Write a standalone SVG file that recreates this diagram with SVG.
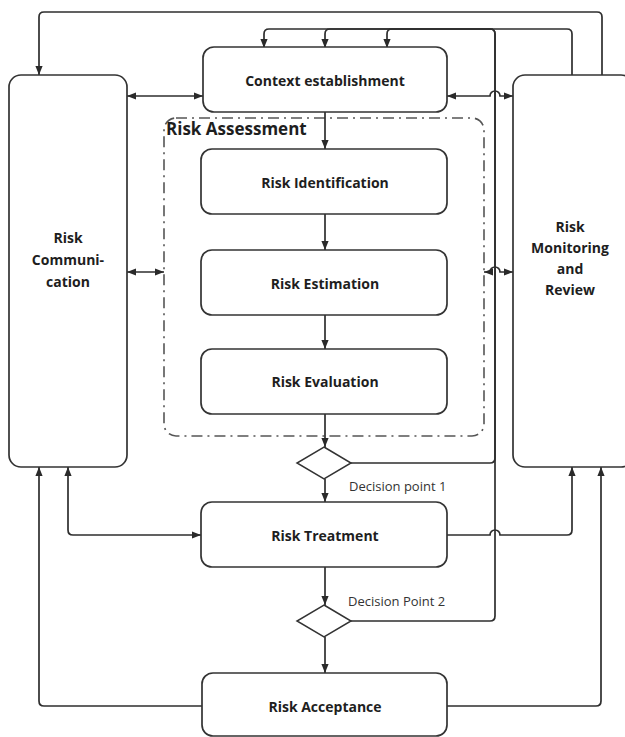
<svg xmlns="http://www.w3.org/2000/svg" width="625" height="737" viewBox="0 0 625 737">
<defs>
<marker id="arr" viewBox="0 0 10 8" refX="10" refY="4" markerWidth="9" markerHeight="8" markerUnits="userSpaceOnUse" orient="auto-start-reverse">
<path d="M0,0 L10,4 L0,8 z" fill="#2a2a2a"/>
</marker>
<style>
.box{fill:#fff;stroke:#333;stroke-width:1.7}
.dia{fill:#fff;stroke:#333;stroke-width:1.5}
.ra{fill:none;stroke:#555;stroke-width:1.6;stroke-dasharray:11 5 2 5}
.c{fill:none;stroke:#2e2e2e;stroke-width:1.7}
.ce{marker-end:url(#arr)}
.cb{marker-start:url(#arr);marker-end:url(#arr)}
.t{font-family:"Open Sans","Liberation Sans",sans-serif;font-weight:bold;font-size:14px;fill:#1e1e1e;text-anchor:middle;dominant-baseline:central}
.l{font-family:"Open Sans","Liberation Sans",sans-serif;font-size:13px;fill:#333;dominant-baseline:central}
.h{font-family:"Open Sans","Liberation Sans",sans-serif;font-weight:bold;font-size:17px;fill:#1e1e1e;dominant-baseline:central}
</style>
</defs>
<rect width="625" height="737" fill="#fff"/>

<g id="risk-assessment">
<rect class="ra" x="164" y="118" width="320" height="318" rx="12"/>
<text class="h" x="166" y="128">Risk Assessment</text>
</g>

<g id="connectors">
<path class="c ce" d="M325,112 V149"/>
<path class="c ce" d="M325,214 V250"/>
<path class="c ce" d="M325,315 V349"/>
<path class="c ce" d="M325,414 V447"/>
<path class="c ce" d="M325,479 V502"/>
<path class="c ce" d="M325,567 V605"/>
<path class="c ce" d="M325,637 V673"/>
<path class="c cb" d="M127,96 H203"/>
<path class="c cb" d="M447,96 H490 A5,5 0 0 1 500,96 H513"/>
<path class="c cb" d="M127,272 H164"/>
<path class="c cb" d="M484,272 H490 A5,5 0 0 1 500,272 H513"/>
<path class="c cb" d="M68,467 V530 Q68,535 73,535 H201"/>
<path class="c ce" d="M447,535 H490 A5,5 0 0 1 500,535 H567 Q572,535 572,530 V467"/>
<path class="c ce" d="M447,706 H596 Q601,706 601,701 V467"/>
<path class="c ce" d="M202,706 H44 Q39,706 39,701 V467"/>
<path class="c ce" d="M602,75 V17 Q602,12 597,12 H44 Q39,12 39,17 V75"/>
<path class="c ce" d="M572,75 V34 Q572,29 567,29 H269 Q264,29 264,34 V48"/>
<path class="c ce" d="M350,463 H490 Q495,463 495,458 V34 Q495,29 490,29 H330 Q325,29 325,34 V48"/>
<path class="c ce" d="M350,621 H490 Q495,621 495,616 V34 Q495,29 490,29 H392 Q387,29 387,34 V48"/>
</g>

<g id="risk-communication">
<rect class="box" x="9" y="75" width="118" height="392" rx="12"/>
<text class="t" x="68" y="237">Risk</text>
<text class="t" x="68" y="259">Communi-</text>
<text class="t" x="68" y="281">cation</text>
</g>

<g id="risk-monitoring">
<rect class="box" x="513" y="75" width="120" height="392" rx="12"/>
<text class="t" x="570" y="226">Risk</text>
<text class="t" x="570" y="247">Monitoring</text>
<text class="t" x="570" y="268">and</text>
<text class="t" x="570" y="289">Review</text>
</g>

<g id="context">
<rect class="box" x="203" y="47" width="244" height="65" rx="11"/>
<text class="t" x="325" y="80">Context establishment</text>
</g>

<g id="risk-identification">
<rect class="box" x="201" y="149" width="246" height="65" rx="11"/>
<text class="t" x="325" y="182">Risk Identification</text>
</g>

<g id="risk-estimation">
<rect class="box" x="201" y="250" width="246" height="65" rx="11"/>
<text class="t" x="325" y="283">Risk Estimation</text>
</g>

<g id="risk-evaluation">
<rect class="box" x="201" y="349" width="246" height="65" rx="11"/>
<text class="t" x="325" y="381">Risk Evaluation</text>
</g>

<g id="decision-1">
<polygon class="dia" points="324,447 351,463 324,479 297,463"/>
<text class="l" x="349" y="486">Decision point 1</text>
</g>

<g id="risk-treatment">
<rect class="box" x="201" y="502" width="246" height="65" rx="11"/>
<text class="t" x="325" y="535">Risk Treatment</text>
</g>

<g id="decision-2">
<polygon class="dia" points="324,605 351,621 324,637 297,621"/>
<text class="l" x="348" y="601">Decision Point 2</text>
</g>

<g id="risk-acceptance">
<rect class="box" x="202" y="673" width="245" height="63" rx="11"/>
<text class="t" x="325" y="706">Risk Acceptance</text>
</g>
</svg>
